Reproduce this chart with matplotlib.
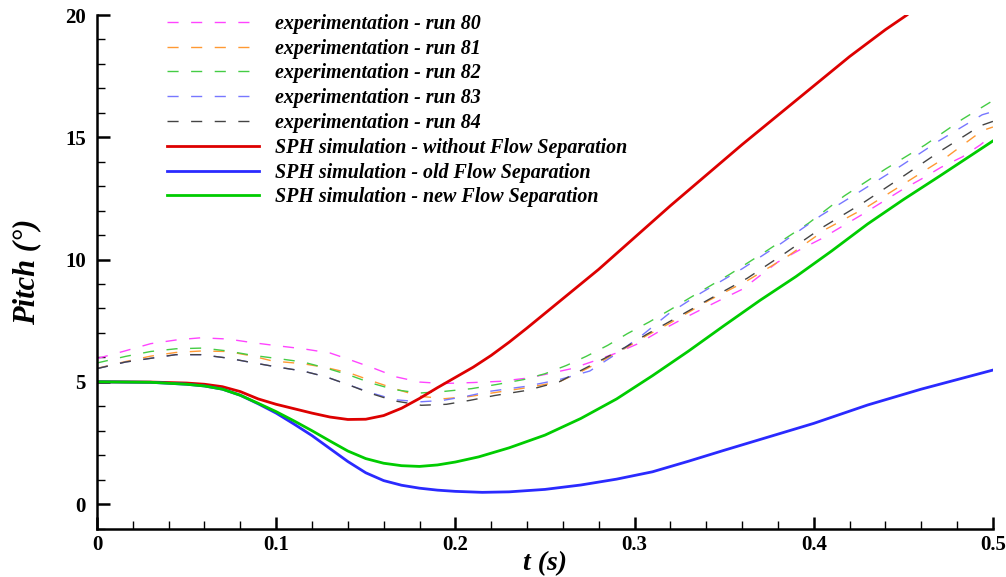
import matplotlib
matplotlib.use('Agg')
from matplotlib import pyplot as plt
from matplotlib.ticker import MultipleLocator

# experimental runs (dashed)
t80 = [0, 0.015, 0.03, 0.045, 0.058, 0.073, 0.087, 0.1, 0.115, 0.13, 0.142, 0.155, 0.167, 0.18,
       0.193, 0.21, 0.225, 0.24, 0.25, 0.265, 0.277, 0.29, 0.302, 0.313, 0.325, 0.337, 0.348, 0.36,
       0.38, 0.393, 0.404, 0.415, 0.427, 0.449, 0.46, 0.471, 0.483, 0.493, 0.5]
run80 = [5.95, 6.25, 6.56, 6.72, 6.8, 6.75, 6.6, 6.48, 6.35, 6.18, 5.88, 5.54, 5.2, 4.99,
         4.93, 4.97, 5.02, 5.15, 5.3, 5.54, 5.84, 6.18, 6.56, 7.03, 7.5, 7.95, 8.35, 8.78,
         9.9, 10.43, 10.84, 11.32, 11.84, 12.84, 13.29, 13.77, 14.2, 14.69, 15.1]

t81 = [0, 0.016, 0.03, 0.044, 0.058, 0.073, 0.087, 0.098, 0.115, 0.128, 0.141, 0.154, 0.167, 0.18,
       0.194, 0.208, 0.222, 0.24, 0.258, 0.271, 0.283, 0.295, 0.307, 0.319, 0.342, 0.363, 0.386,
       0.407, 0.43, 0.453, 0.475, 0.494, 0.5]
run81 = [5.55, 5.83, 6.05, 6.2, 6.26, 6.24, 6.05, 5.85, 5.74, 5.58, 5.36, 5.02, 4.7, 4.41,
         4.31, 4.4, 4.56, 4.76, 5.0, 5.45, 5.9, 6.38, 6.9, 7.37, 8.35, 9.14, 10.16,
         11.25, 12.16, 13.22, 14.24, 15.27, 15.42]

t82 = [0, 0.016, 0.03, 0.044, 0.059, 0.073, 0.087, 0.101, 0.115, 0.128, 0.141, 0.153, 0.166, 0.18,
       0.194, 0.209, 0.223, 0.238, 0.25, 0.262, 0.273, 0.285, 0.296, 0.308, 0.32, 0.331, 0.353,
       0.374, 0.397, 0.417, 0.44, 0.462, 0.483, 0.5]
run82 = [5.77, 6.04, 6.24, 6.35, 6.38, 6.26, 6.08, 5.95, 5.81, 5.56, 5.27, 4.95, 4.68, 4.54,
         4.61, 4.72, 4.89, 5.09, 5.33, 5.67, 6.04, 6.49, 6.97, 7.44, 7.95, 8.44, 9.39,
         10.37, 11.48, 12.6, 13.7, 14.68, 15.74, 16.5]

t83 = [0, 0.016, 0.029, 0.044, 0.058, 0.073, 0.087, 0.101, 0.115, 0.128, 0.141, 0.153, 0.166, 0.18,
       0.193, 0.207, 0.219, 0.24, 0.258, 0.275, 0.29, 0.305, 0.319, 0.337, 0.36, 0.382, 0.404,
       0.426, 0.448, 0.47, 0.494, 0.5]
run83 = [5.54, 5.81, 5.95, 6.11, 6.11, 5.97, 5.78, 5.6, 5.44, 5.2, 4.86, 4.55, 4.27, 4.18,
         4.24, 4.42, 4.61, 4.82, 5.09, 5.44, 6.15, 6.95, 7.78, 8.63, 9.62, 10.67, 11.8,
         12.79, 13.8, 14.86, 15.92, 16.05]

t84 = [0, 0.016, 0.029, 0.044, 0.058, 0.073, 0.087, 0.101, 0.115, 0.128, 0.141, 0.153, 0.166, 0.181,
       0.195, 0.208, 0.222, 0.24, 0.258, 0.271, 0.283, 0.295, 0.307, 0.319, 0.342, 0.363, 0.384,
       0.405, 0.428, 0.449, 0.471, 0.493, 0.5]
run84 = [5.54, 5.81, 5.95, 6.11, 6.11, 5.97, 5.78, 5.6, 5.44, 5.2, 4.86, 4.52, 4.22, 4.04,
         4.08, 4.24, 4.44, 4.65, 5.0, 5.5, 5.95, 6.42, 6.95, 7.44, 8.39, 9.24, 10.26,
         11.32, 12.34, 13.36, 14.45, 15.47, 15.65]

# SPH simulations (solid)
t_red = [0, 0.03, 0.05, 0.06, 0.07, 0.08, 0.09, 0.1, 0.11, 0.12, 0.13, 0.14, 0.15, 0.16, 0.17,
         0.18, 0.19, 0.2, 0.21, 0.22, 0.23, 0.24, 0.25, 0.26, 0.27, 0.28, 0.3, 0.32, 0.34, 0.36,
         0.38, 0.4, 0.42, 0.44, 0.452]
sph_without = [5.0, 4.99, 4.95, 4.9, 4.8, 4.6, 4.3, 4.08, 3.9, 3.72, 3.56, 3.46, 3.47, 3.62, 3.92,
               4.32, 4.76, 5.18, 5.6, 6.08, 6.62, 7.2, 7.8, 8.4, 9.0, 9.6, 10.9, 12.2, 13.45, 14.7,
               15.9, 17.1, 18.3, 19.4, 20.0]

t_blue = [0, 0.03, 0.05, 0.06, 0.07, 0.08, 0.09, 0.1, 0.11, 0.12, 0.13, 0.14, 0.15, 0.16, 0.17,
          0.18, 0.19, 0.2, 0.215, 0.23, 0.25, 0.27, 0.29, 0.31, 0.33, 0.35, 0.375, 0.4, 0.43,
          0.46, 0.5]
sph_old = [5.0, 4.98, 4.9, 4.83, 4.7, 4.45, 4.1, 3.72, 3.27, 2.8, 2.27, 1.74, 1.28, 0.96, 0.77,
           0.65, 0.57, 0.52, 0.48, 0.5, 0.6, 0.78, 1.02, 1.32, 1.75, 2.2, 2.75, 3.3, 4.05,
           4.7, 5.48]

t_green = [0, 0.03, 0.05, 0.06, 0.07, 0.08, 0.09, 0.1, 0.11, 0.12, 0.13, 0.14, 0.15, 0.16, 0.17,
           0.18, 0.19, 0.2, 0.213, 0.23, 0.25, 0.27, 0.29, 0.31, 0.33, 0.35, 0.37, 0.39, 0.41,
           0.43, 0.45, 0.47, 0.5]
sph_new = [5.0, 4.98, 4.9, 4.83, 4.7, 4.45, 4.12, 3.78, 3.4, 3.0, 2.58, 2.17, 1.86, 1.67, 1.57,
           1.54, 1.6, 1.72, 1.93, 2.3, 2.82, 3.5, 4.3, 5.25, 6.25, 7.3, 8.33, 9.3, 10.35,
           11.45, 12.45, 13.4, 14.85]

serif = ['Liberation Serif', 'DejaVu Serif']

fig = plt.figure(figsize=(10.06, 5.77), dpi=100)
ax = fig.add_axes([0.0964, 0.084, 0.8906, 0.890])

dash = (8, 9)
ax.plot(t80, run80, color='#ff44ff', lw=1, dashes=dash, label='experimentation - run 80')
ax.plot(t81, run81, color='#ff9933', lw=1, dashes=dash, label='experimentation - run 81')
ax.plot(t82, run82, color='#44cc44', lw=1, dashes=dash, label='experimentation - run 82')
ax.plot(t83, run83, color='#7777ff', lw=1, dashes=dash, label='experimentation - run 83')
ax.plot(t84, run84, color='#444444', lw=1, dashes=dash, label='experimentation - run 84')
ax.plot(t_red, sph_without, color='#dd0000', lw=2, label='SPH simulation - without Flow Separation')
ax.plot(t_blue, sph_old, color='#2a2aff', lw=2, label='SPH simulation - old Flow Separation')
ax.plot(t_green, sph_new, color='#00cc00', lw=2, label='SPH simulation - new Flow Separation')

ax.set_xlim(0, 0.5)
ax.set_ylim(-1, 20)
ax.spines['top'].set_visible(False)
ax.spines['right'].set_visible(False)
ax.spines['left'].set_linewidth(1.8)
ax.spines['bottom'].set_linewidth(1.8)

ax.xaxis.set_minor_locator(MultipleLocator(0.02))
ax.yaxis.set_minor_locator(MultipleLocator(1))
ax.set_xticks([0, 0.1, 0.2, 0.3, 0.4, 0.5])
ax.set_xticklabels(['0', '0.1', '0.2', '0.3', '0.4', '0.5'])
ax.set_yticks([0, 5, 10, 15, 20])
ax.set_yticklabels(['0', '5', '10', '15', '20'])
ax.tick_params(which='major', direction='in', length=9, width=1.8)
ax.tick_params(axis='y', which='major', pad=8)
ax.tick_params(axis='x', which='major', pad=5)
ax.tick_params(which='minor', direction='in', length=6, width=1)
for lab in ax.get_xticklabels() + ax.get_yticklabels():
    lab.set_family(serif)
    lab.set_weight('bold')
    lab.set_fontsize(15)

ax.set_xlabel('t (s)', family=serif, style='italic', weight='bold', fontsize=20, labelpad=-3)
ax.set_ylabel('Pitch (°)', family=serif, style='italic', weight='bold', fontsize=22, labelpad=17)

leg = ax.legend(loc='upper left', bbox_to_anchor=(0.067, 1.022), frameon=False,
                prop={'family': serif, 'style': 'italic', 'weight': 'bold', 'size': 14.4},
                handlelength=4.6, handletextpad=0.8, labelspacing=0.24, borderpad=0)

plt.savefig('out.png', dpi=100)
